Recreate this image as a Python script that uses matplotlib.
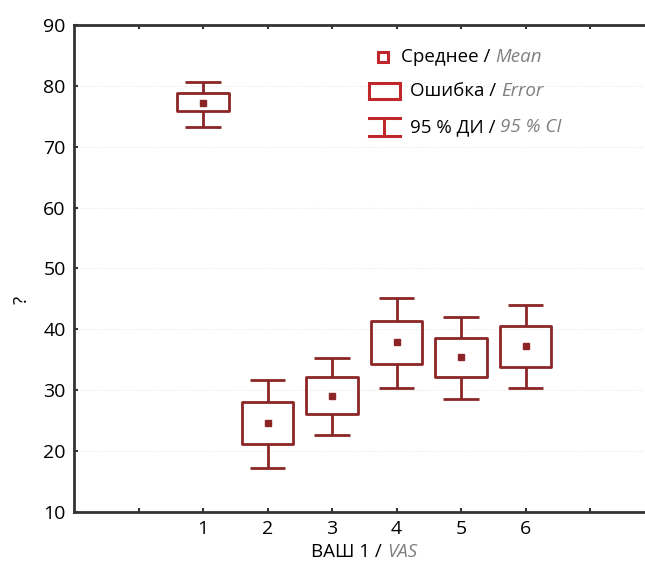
import matplotlib.pyplot as plt
from matplotlib.patches import Rectangle
from matplotlib.lines import Line2D

plt.rcParams['font.family'] = ['Open Sans', 'DejaVu Sans']

# data
groups = [1, 2, 3, 4, 5, 6]
means = [77.1, 24.6, 29.1, 37.9, 35.5, 37.2]
box_hi = [78.8, 28.0, 32.1, 41.3, 38.6, 40.5]
box_lo = [75.8, 21.1, 26.0, 34.2, 32.1, 33.8]
ci_hi = [80.7, 31.6, 35.3, 45.2, 42.0, 44.0]
ci_lo = [73.2, 17.2, 22.6, 30.4, 28.6, 30.3]
yticks = [10, 20, 30, 40, 50, 60, 70, 80, 90]

dark = '#8c2626'
red = '#c0272d'
grey = '#808080'

fig = plt.figure(figsize=(6.45, 5.64), dpi=100)
ax = fig.add_axes([0.1147, 0.0927, 0.8853, 0.863])

box_w = 0.8
cap_w = 0.55
lw = 2.0
for x, m, bh, bl, ch, cl in zip(groups, means, box_hi, box_lo, ci_hi, ci_lo):
    ax.add_patch(Rectangle((x - box_w / 2, bl), box_w, bh - bl, fill=False,
                           edgecolor=dark, linewidth=lw, joinstyle='round', zorder=3))
    ax.vlines(x, bh, ch, color=dark, linewidth=lw, zorder=3)
    ax.vlines(x, cl, bl, color=dark, linewidth=lw, zorder=3)
    ax.hlines([ch, cl], x - cap_w / 2, x + cap_w / 2, color=dark, linewidth=lw, zorder=3)
ax.plot(groups, means, 's', color=dark, markersize=4, zorder=4)

ax.set_xlim(-1, 7.85)
ax.set_ylim(10, 90)
ax.set_xticks(range(0, 8))
ax.set_xticklabels(['', '1', '2', '3', '4', '5', '6', ''])
ax.set_yticks(yticks)
ax.tick_params(direction='in', length=3, width=1.5, labelsize=14, top=True,
               colors='#333333', labelcolor='black', pad=6)
ax.yaxis.grid(True, color='#e6e6e6', linestyle=':', linewidth=0.8)
ax.set_axisbelow(True)
ax.spines['right'].set_visible(False)
for s in ['left', 'bottom', 'top']:
    ax.spines[s].set_linewidth(2)
    ax.spines[s].set_color('#333333')

# axis labels
xl = ax.text(0.548, -0.082, 'ВАШ 1 / ', transform=ax.transAxes, fontsize=13.5,
             ha='right', va='center')
ax.annotate('VAS', xy=(1, 0), xycoords=xl, va='bottom', fontsize=13.5,
            style='italic', color=grey)
ax.set_ylabel('?', fontsize=13.5)
ax.yaxis.set_label_coords(-0.075, 0.435)

# legend drawn by hand
tr = ax.transAxes
def px(x, y):
    return ((x - 74) / 571, (512 - y) / 487)

x0, y0 = px(383, 57)
ax.add_line(Line2D([x0], [y0], marker='s', markersize=7.5, mfc='none', mec=red,
                   mew=2.2, transform=tr))
x0, y0 = px(369, 91)
x1, y1 = px(400, 99)
ax.add_patch(Rectangle((x0, y1), x1 - x0, 2 * (y0 - y1), transform=tr, fill=False,
                       edgecolor=red, linewidth=2.2))
x0, y0 = px(369, 127)
x1, _ = px(400, 127)
_, yt = px(0, 118)
_, yb = px(0, 136)
xm = (x0 + x1) / 2
ax.add_line(Line2D([x0, x1], [yt, yt], color=red, linewidth=2.2, transform=tr))
ax.add_line(Line2D([x0, x1], [yb, yb], color=red, linewidth=2.2, transform=tr))
ax.add_line(Line2D([xm, xm], [yt, yb], color=red, linewidth=2.2, transform=tr))

entries = [(401, 57, 'Среднее / ', 'Mean'),
           (410, 91, 'Ошибка / ', 'Error'),
           (410, 127, '95 % ДИ / ', '95 % CI')]
for ex, ey, ru, en in entries:
    tx, ty = px(ex, ey)
    t = ax.text(tx, ty, ru, transform=tr, fontsize=13.5, va='center', ha='left')
    ax.annotate(en, xy=(1, 0), xycoords=t, va='bottom', fontsize=13.5,
                style='italic', color=grey)

plt.savefig('out.png', dpi=100)
